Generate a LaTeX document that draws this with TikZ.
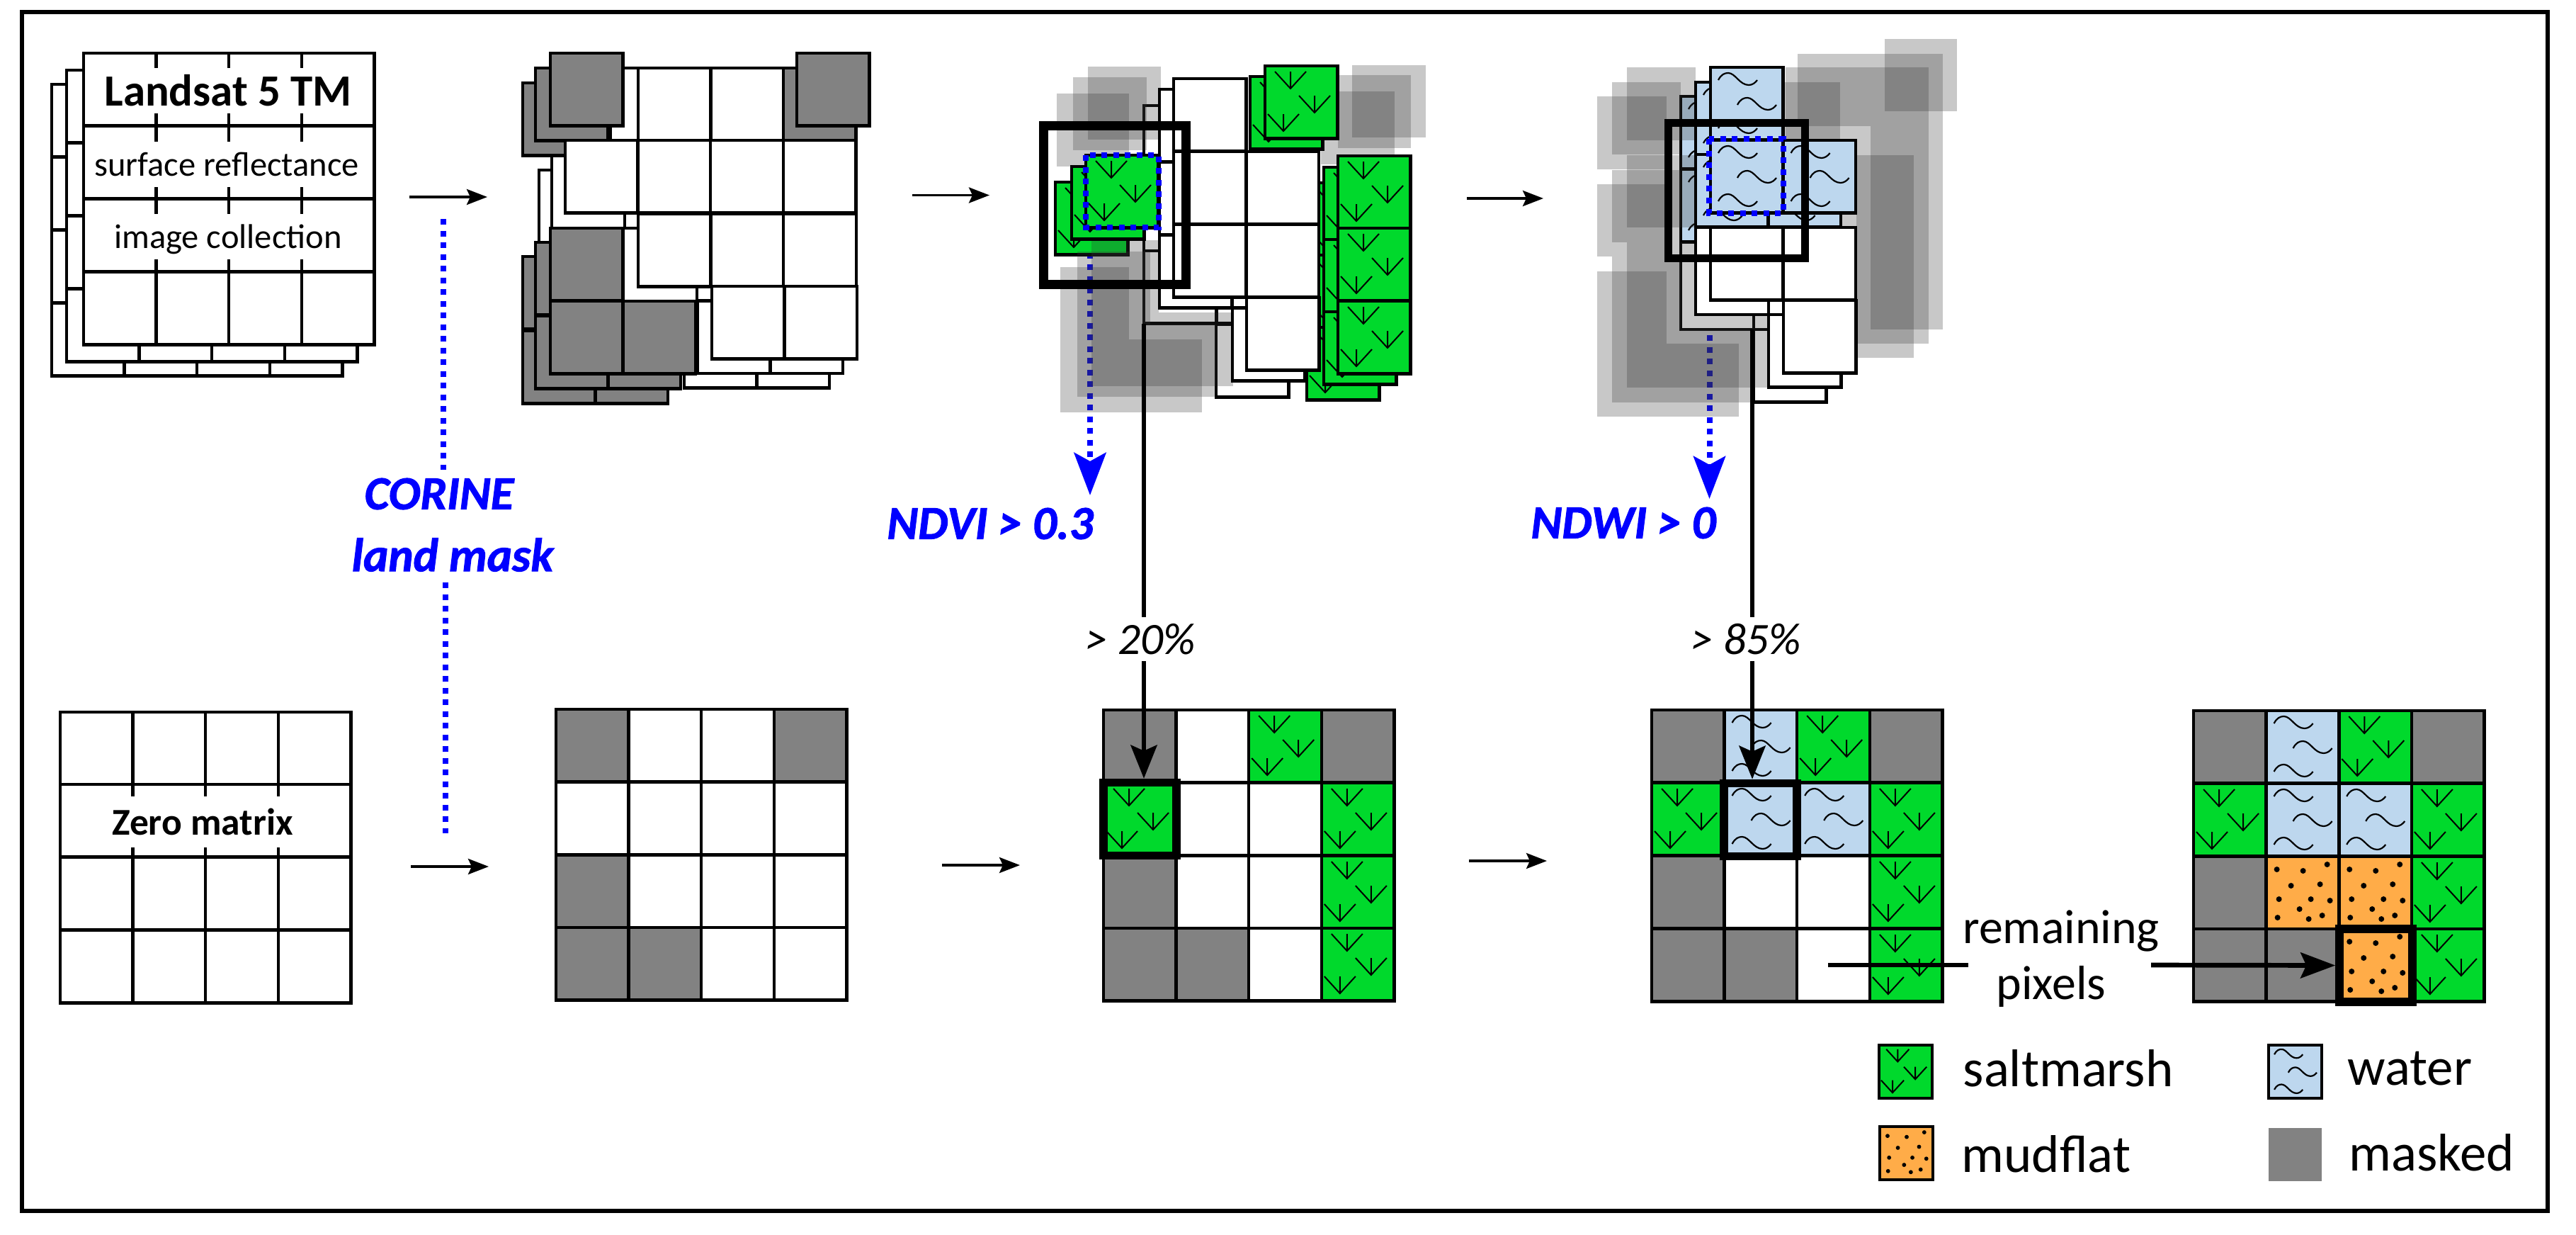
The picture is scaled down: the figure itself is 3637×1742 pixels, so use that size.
\documentclass[tikz,border=0pt]{standalone}
\usepackage{fontspec}
\setmainfont{Carlito}
\newfontfamily\bluefont[BoldItalicFeatures={FakeBold=1.5}]{Carlito}
\usetikzlibrary{arrows.meta}

\definecolor{marshgreen}{RGB}{0,217,44}
\definecolor{waterblue}{RGB}{189,215,238}
\definecolor{mudorange}{RGB}{255,172,72}
\definecolor{maskgrey}{RGB}{130,130,130}
\definecolor{shadegrey}{RGB}{53,53,53}

\tikzset{
  cellbox/.style={draw=black, line width=0.045cm},
  tuftline/.style={draw=black, line width=0.02cm},
  waveline/.style={draw=black, line width=0.022cm},
  shade/.style={fill=shadegrey, fill opacity=0.27},
  boldbox/.style={draw=black, line width=0.115cm, minimum width=1.03cm, minimum height=1.03cm, inner sep=0pt},
  stackbox/.style={draw=black, line width=0.13cm},
  bluebox/.style={draw=blue, line width=0.085cm, dash pattern=on 0.08cm off 0.085cm},
  bluedots/.style={draw=blue, line width=0.08cm, dash pattern=on 0.08cm off 0.085cm},
  bluearrow/.style={bluedots, -{Stealth[length=0.6cm, width=0.45cm, inset=0.12cm]}},
  smallarrow/.style={draw=black, line width=0.037cm, -{Stealth[length=0.29cm, width=0.22cm, inset=0.05cm]}},
  heavyline/.style={draw=black, line width=0.067cm},
  heavyarrow/.style={heavyline, -{Stealth[length=0.47cm, width=0.37cm, inset=0.08cm]}},
  bluetext/.style={text=blue, font=\fontsize{19}{21}\selectfont\bluefont\bfseries\itshape, inner sep=0pt},
  pcttext/.style={font=\fontsize{18}{20}\selectfont\itshape, minimum height=0.61cm, inner sep=0pt},
  bandtext/.style={fill=white, minimum height=0.63cm, inner sep=0pt},
  legendtext/.style={anchor=base west, font=\fontsize{21.3}{24}\selectfont, inner sep=0pt}
}

% one cell each, top left corner at the origin
\newcommand{\cellw}{\draw[cellbox, fill=white] (0,0) rectangle (102.6,102.6);}
\newcommand{\cellg}{\draw[cellbox, fill=maskgrey] (0,0) rectangle (102.6,102.6);}
\newcommand{\cellm}{%
  \draw[cellbox, fill=marshgreen] (0,0) rectangle (102.6,102.6);
  \foreach \tx/\ty in {36/8,70/42,26/68} {
    \draw[tuftline, shift={(\tx,\ty)}] (-22,0) -- (0,24) -- (22,0) (0,0) -- (0,24);
  }}
\newcommand{\cella}{%
  \draw[cellbox, fill=waterblue] (0,0) rectangle (102.6,102.6);
  \foreach \tx/\ty in {11/8,38/43,11/76} {
    \draw[waveline, shift={(\tx,\ty)}] (0,10) .. controls (4,2) and (9,0) .. (14,0) .. controls (24,0) and (30,17) .. (43,17) .. controls (48,17) and (52,14) .. (55,10);
  }}
\newcommand{\cellf}{%
  \draw[cellbox, fill=mudorange] (0,0) rectangle (102.6,102.6);
  \foreach \tx/\ty in {15/18,52/20,86/11,35/41,76/39,18/60,63/60,90/62,47/74,79/83,60/88,16/86} {
    \fill[black] (\tx,\ty) circle (4);
  }}
% a row of cells: left, top, letters
\newcommand{\cellrow}[3]{%
  \foreach \t [count=\i from 0] in {#3} {
    \begin{scope}[shift={(#1+\i*102.6,#2)}]
      \csname cell\t\endcsname
    \end{scope}
  }}
\newcommand{\legendcell}[3]{%
  \begin{scope}[shift={(#1,#2)}, scale=0.73]
    \csname cell#3\endcsname
  \end{scope}}

\begin{document}
\begin{tikzpicture}[x=0.01cm, y=-0.01cm]
  \useasboundingbox (0,0) rectangle (3637,1742);
  \draw[line width=0.06cm] (31,17) rectangle (3597,1709);

  % Landsat collection
  \foreach \ty in {119,222,325,428} {\cellrow{73}{\ty}{w,w,w,w}}
  \foreach \ty in {99,202,305,408} {\cellrow{94}{\ty}{w,w,w,w}}
  \foreach \ty in {75,178,281,384} {\cellrow{118}{\ty}{w,w,w,w}}
  \node[bandtext, minimum width=3.6cm, font=\fontsize{17.9}{20}\selectfont\bfseries] (landsat) at (322,128) {Landsat 5 TM};
  \node[bandtext, minimum width=3.8cm, font=\fontsize{13.8}{16}\selectfont] (surface) at (320,232) {surface reflectance};
  \node[bandtext, minimum width=3.4cm, text depth=0pt, font=\fontsize{13.8}{16}\selectfont] (collection) at (322,334) {image collection};

  % land mask on the collection
  \cellrow{966}{445}{w,w}
  \cellrow{985}{424.5}{w,w}
  \draw[cellbox, fill=white] (761,240) rectangle (864,342);
  \draw[cellbox, fill=white] (779,220) rectangle (882,322);
  \draw[cellbox, fill=white] (880,117) rectangle (983,220);
  \draw[cellbox, fill=white] (862,96) rectangle (901,198);
  \draw[cellbox, fill=white] (880,322) rectangle (984,425);
  \cellrow{738}{117}{g}
  \cellrow{738}{362}{g}
  \cellrow{738}{467}{g,g}
  \cellrow{756}{96}{g}
  \cellrow{756}{342}{g}
  \cellrow{756}{446}{g,g}
  \cellrow{777}{75}{g}
  \cellrow{777}{322}{g}
  \cellrow{777}{425}{g,g}
  \cellrow{901}{96}{w,w}
  \cellrow{1106}{96}{g}
  \cellrow{1125}{75}{g}
  \cellrow{798}{198}{w,w,w,w}
  \cellrow{901}{302}{w,w,w}
  \cellrow{1005}{404}{w,w}

  % NDVI stack
  \coordinate (ndvistart) at (1539,340);
  \coordinate (ndvitip) at (1539,699);
  \draw[bluearrow] (ndvistart) -- (ndvitip);
  \cellrow{1615}{149}{w}
  \cellrow{1615}{252}{w}
  \cellrow{1615}{354}{w,w}
  \cellrow{1717}{458}{w}
  \cellrow{1490}{257}{m}
  \foreach \ty in {258,360,462} {\cellrow{1845}{\ty}{m}}
  \foreach \ax/\ay/\bx/\by in {1536/94/1639/197, 1515/109/1619/212, 1492/132/1594/235,
    1909/92/2013/194, 1889/106/1992/209, 1865/129/1969/232,
    1497/377/1594/479, 1497/479/1697/582, 1521/355/1624/458, 1521/458/1716/560,
    1541/339/1636/441, 1541/441/1741/545} {
    \fill[shade] (\ax,\ay) rectangle (\bx,\by);
  }
  \cellrow{1637}{126}{w}
  \cellrow{1637}{229}{w}
  \cellrow{1637}{332}{w,w}
  \cellrow{1740}{435}{w}
  \cellrow{1513}{235}{m}
  \cellrow{1765}{108}{m}
  \foreach \ty in {236,338,440} {\cellrow{1869}{\ty}{m}}
  \cellrow{1657}{111}{w}
  \cellrow{1657}{214}{w,w}
  \cellrow{1657}{317}{w,w}
  \cellrow{1760}{420}{w}
  \cellrow{1533}{219}{m}
  \cellrow{1786}{93}{m}
  \foreach \ty in {220,322,425} {\cellrow{1889}{\ty}{m}}
  \draw[stackbox] (1473,177) rectangle (1674,401);
  \draw[bluebox] (1533,219) rectangle (1636,321);

  % NDWI stack
  \coordinate (ndwistart) at (2413.5,440);
  \coordinate (ndwitip) at (2413.5,704);
  \draw[bluearrow] (ndwistart) -- (ndwitip);
  \cellrow{2373}{136}{a}
  \cellrow{2373}{239}{a}
  \draw[cellbox, fill=white] (2373,342) rectangle (2476,465);
  \cellrow{2476}{465}{w}
  \foreach \ax/\ay/\bx/\by in {2255/136/2353/239, 2255/260/2353/362, 2255/383/2353/485, 2255/485/2455/588,
    2276/116/2373/218, 2276/240/2373/342, 2276/362/2373/465, 2276/465/2476/568,
    2297/95/2394/198, 2297/219/2394/321, 2297/342/2394/444, 2297/444/2496/547,
    2661/55/2763/157, 2538/76/2743/178, 2641/178/2743/465, 2521/95/2723/198, 2621/198/2723/485,
    2498/116/2598/218, 2601/219/2702/505} {
    \fill[shade] (\ax,\ay) rectangle (\bx,\by);
  }
  \cellrow{2394}{116}{a}
  \cellrow{2394}{218}{a,a}
  \draw[cellbox, fill=white] (2394,321) rectangle (2497,444);
  \draw[cellbox, fill=white] (2497,321) rectangle (2599,444);
  \cellrow{2497}{444}{w}
  \cellrow{2415}{95}{a}
  \cellrow{2415}{198}{a,a}
  \cellrow{2415}{321}{w,w}
  \cellrow{2518}{424}{w}
  \draw[stackbox, line width=0.11cm] (2355,173) rectangle (2548,364);
  \draw[bluebox] (2413,196) rectangle (2518,301);

  % bottom row
  \cellrow{85}{1005}{w,w,w,w}
  \cellrow{85}{1107}{w,w,w,w}
  \cellrow{85}{1210}{w,w,w,w}
  \cellrow{85}{1313}{w,w,w,w}
  \node[fill=white, minimum width=2.6cm, minimum height=0.72cm, inner sep=0pt, font=\fontsize{15.2}{17}\selectfont\bfseries] (zeromatrix) at (286,1160) {Zero matrix};

  \cellrow{785}{1001}{g,w,w,g}
  \cellrow{785}{1104}{w,w,w,w}
  \cellrow{785}{1207}{g,w,w,w}
  \cellrow{785}{1309}{g,g,w,w}

  \cellrow{1558}{1002}{g,w,m,g}
  \cellrow{1558}{1105}{m,w,w,m}
  \cellrow{1558}{1208}{g,w,w,m}
  \cellrow{1558}{1310}{g,g,w,m}
  \node[boldbox] (marshbox) at (1609.5,1156) {};

  \cellrow{2332}{1002}{g,a,m,g}
  \cellrow{2332}{1105}{m,a,a,m}
  \cellrow{2332}{1208}{g,w,w,m}
  \cellrow{2332}{1311}{g,g,w,m}
  \node[boldbox] (waterbox) at (2485.5,1157) {};

  \cellrow{3097}{1003}{g,a,m,g}
  \cellrow{3097}{1106}{m,a,a,m}
  \cellrow{3097}{1209}{g,f,f,m}
  \cellrow{3097}{1311}{g,g,f,m}
  \node[boldbox] (mudbox) at (3354.5,1362.5) {};

  % arrows between the steps
  \coordinate (a1) at (578,278);
  \coordinate (a2) at (688,278);
  \coordinate (a3) at (1288,275.5);
  \coordinate (a4) at (1397,275.5);
  \coordinate (a5) at (2071,280);
  \coordinate (a6) at (2179,280);
  \coordinate (b1) at (580,1223);
  \coordinate (b2) at (690,1223);
  \coordinate (b3) at (1330,1221);
  \coordinate (b4) at (1440,1221);
  \coordinate (b5) at (2074,1215);
  \coordinate (b6) at (2184,1215);
  \draw[smallarrow] (a1) -- (a2);
  \draw[smallarrow] (a3) -- (a4);
  \draw[smallarrow] (a5) -- (a6);
  \draw[smallarrow] (b1) -- (b2);
  \draw[smallarrow] (b3) -- (b4);
  \draw[smallarrow] (b5) -- (b6);

  % CORINE mask
  \node[bluetext] (corine) at (620,697) {CORINE};
  \node[bluetext] (landmask) at (639,783) {land mask};
  \coordinate (corinetop) at (626,309);
  \coordinate (corineend) at (626,663);
  \coordinate (maskstart) at (628.5,822);
  \coordinate (maskend) at (628.5,1176);
  \draw[bluedots] (corinetop) -- (corineend);
  \draw[bluedots] (maskstart) -- (maskend);

  % thresholds
  \node[bluetext] (ndvi) at (1398,739) {NDVI > 0.3};
  \node[bluetext] (ndwi) at (2292,738) {NDWI > 0};
  \node[pcttext] (pct20) at (1610,902) {> 20\%};
  \node[pcttext] (pct85) at (2465,902) {> 85\%};
  \coordinate (ndviline) at (1615,457);
  \coordinate (ndwiline) at (2474,465);
  \draw[heavyline] (ndviline) -- (ndviline |- pct20.north);
  \draw[heavyarrow] (ndviline |- pct20.south) -- (ndviline |- marshbox.north);
  \draw[heavyline] (ndwiline) -- (ndwiline |- pct85.north);
  \draw[heavyarrow] (ndwiline |- pct85.south) -- (ndwiline |- waterbox.north);

  % remaining pixels
  \node[font=\fontsize{19.3}{21}\selectfont, inner sep=0pt] (remaining) at (2910,1314) {remaining};
  \node[font=\fontsize{19.3}{21}\selectfont, inner sep=0pt] (pixels) at (2896,1392) {pixels};
  \coordinate (remainstart) at (2581,1362);
  \coordinate (remainend) at (2779,1362);
  \coordinate (remainright) at (3037,1362);
  \draw[heavyline] (remainstart) -- (remainend);
  \draw[heavyline, -{Stealth[length=0.49cm, width=0.36cm, inset=0.08cm]}] (remainright) -- (mudbox.west);

  % legend
  \legendcell{2653}{1475}{m}
  \legendcell{3203}{1475}{a}
  \legendcell{2654}{1590}{f}
  \fill[maskgrey] (3203,1592) rectangle (3278,1667);
  \node[legendtext] (saltmarsh) at (2771,1533) {saltmarsh};
  \node[legendtext] (water) at (3314,1531) {water};
  \node[legendtext] (mudflat) at (2769,1654) {mudflat};
  \node[legendtext] (masked) at (3316,1652) {masked};
\end{tikzpicture}
\end{document}
